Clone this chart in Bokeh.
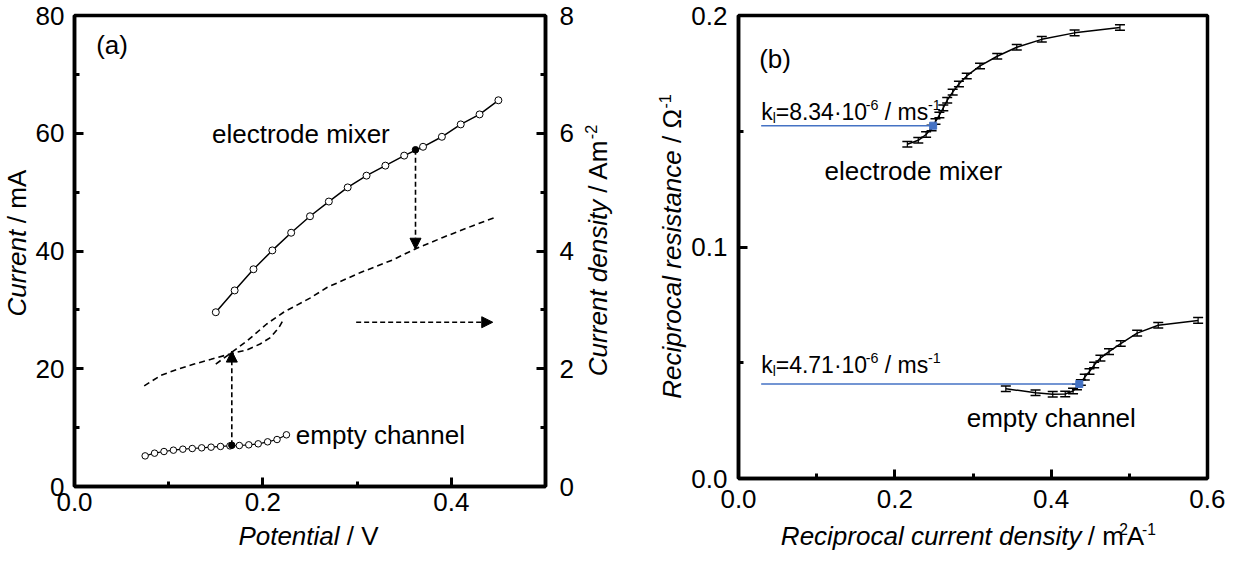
import math
from bokeh.plotting import figure
from bokeh.models import (Range1d, LinearAxis, FixedTicker, NumeralTickFormatter,
                          Label, Arrow, NormalHead, Whisker, TeeHead, ColumnDataSource)
from bokeh.layouts import row, column
from bokeh.embed import file_html
from bokeh.resources import INLINE

FONT = "Liberation Sans"
BLUE = "#4472C4"

# ---------------- Panel (a) data ----------------
mixer_potential = [0.15, 0.17, 0.19, 0.21, 0.23, 0.25, 0.27, 0.29, 0.31, 0.33, 0.35, 0.37, 0.39, 0.41, 0.43, 0.45]
mixer_current = [29.6, 33.3, 36.9, 40.1, 43.1, 45.9, 48.4, 50.8, 52.8, 54.5, 56.2, 57.7, 59.4, 61.5, 63.2, 65.6]

empty_potential = [0.075, 0.085, 0.095, 0.105, 0.115, 0.125, 0.135, 0.145, 0.155, 0.165, 0.175, 0.185, 0.195, 0.205, 0.215, 0.225]
empty_current = [5.2, 5.66, 5.94, 6.17, 6.34, 6.45, 6.57, 6.68, 6.8, 6.9, 6.96, 7.08, 7.25, 7.59, 7.98, 8.78]

mixer_dens_potential = [0.150, 0.167, 0.183, 0.204, 0.222, 0.250, 0.268, 0.303, 0.338, 0.361, 0.391, 0.423, 0.448]
mixer_density = [2.08, 2.28, 2.47, 2.76, 2.96, 3.20, 3.38, 3.63, 3.85, 4.03, 4.23, 4.43, 4.58]

empty_dens_potential = [0.074, 0.092, 0.109, 0.127, 0.145, 0.167, 0.183, 0.197, 0.208, 0.217, 0.222]
empty_density = [1.71, 1.89, 1.99, 2.08, 2.16, 2.26, 2.32, 2.42, 2.53, 2.70, 2.84]

marked_potential = [0.362, 0.167]
marked_current = [57.2, 7.0]
marked_target_current = [40.3, 23.0]   # where the dashed arrows end (left-axis units)

side_arrow_potential = [0.299, 0.444]
side_arrow_density = 2.79

# ---------------- Panel (b) data ----------------
recip_mixer_x = [0.216, 0.230, 0.240, 0.247, 0.252, 0.257, 0.262, 0.267, 0.274, 0.282, 0.292, 0.309, 0.331, 0.356, 0.388, 0.430, 0.488]
recip_mixer_y = [0.1444, 0.1461, 0.1486, 0.1514, 0.1542, 0.1570, 0.1601, 0.1634, 0.1669, 0.1704, 0.1739, 0.1782, 0.1824, 0.1863, 0.1897, 0.1925, 0.1948]
recip_mixer_err = [0.0012] * len(recip_mixer_x)

recip_empty_x = [0.342, 0.380, 0.402, 0.418, 0.428, 0.433, 0.438, 0.443, 0.449, 0.455, 0.463, 0.474, 0.489, 0.510, 0.537, 0.588]
recip_empty_y = [0.0388, 0.0370, 0.0364, 0.0365, 0.0378, 0.0395, 0.0415, 0.0438, 0.0462, 0.0490, 0.0520, 0.0548, 0.0583, 0.0628, 0.0662, 0.0683]
recip_empty_err = [0.0012] * len(recip_empty_x)

kl_mixer_x = [0.029, 0.249]
kl_mixer_y = 0.1524
kl_empty_x = [0.029, 0.436]
kl_empty_y = 0.0408

# ---------------- helpers ----------------
W = {' ': 278, '(': 333, ')': 333, '-': 333, '.': 278, '/': 278, '=': 584, '\u00b7': 278, '\u03a9': 768,
     'A': 667, 'C': 722, 'P': 667, 'R': 722, 'V': 667,
     'a': 556, 'b': 556, 'c': 500, 'd': 556, 'e': 556, 'f': 278, 'g': 556, 'h': 556, 'i': 222,
     'j': 222, 'k': 500, 'l': 222, 'm': 833, 'n': 556, 'o': 556, 'p': 556, 'q': 556, 'r': 333,
     's': 500, 't': 278, 'u': 556, 'v': 500, 'w': 722, 'x': 500, 'y': 500, 'z': 500}
for _d in "0123456789":
    W[_d] = 556

MID = 0.35   # distance (em) from the alphabetic baseline up to the text-box middle


def tw(s, size):
    return sum(W.get(c, 556) for c in s) * size / 1000.0


def rich(p, x, y, segs, kx, ky, size, align="left", vertical=False):
    """Mixed-style text; (x, y) is the baseline start/centre, in data units.
    Italic pieces are anchored at their right end (the junction with the next piece)."""
    parts = []
    for seg in segs:
        text, style = seg[0], seg[1]
        scale = seg[2] if len(seg) > 2 else 1.0
        shift = seg[3] if len(seg) > 3 else 0.0
        parts.append((text, style, size * scale, shift * size))
    total = sum(tw(t, fs) for t, _, fs, _ in parts)
    pos = {"left": 0.0, "center": -total / 2.0, "right": -total}[align]
    for t, st, fs, sh in parts:
        lead = len(t) - len(t.lstrip(" "))
        body = t.strip(" ")
        if st == "italic":
            anchor = pos + tw(t, fs)
            talign = "right"
        else:
            anchor = pos + tw(" " * lead, fs)
            talign = "left"
        up = sh + MID * fs
        if vertical:
            lx = x - up / kx
            ly = y + anchor / ky
            ang = math.pi / 2
        else:
            lx = x + anchor / kx
            ly = y + up / ky
            ang = 0.0
        p.add_layout(Label(x=lx, y=ly, text=body, text_font=FONT, text_font_size=f"{fs:.1f}px",
                           text_font_style=st, text_color="black", text_align=talign,
                           text_baseline="middle", angle=ang))
        pos += tw(t, fs)


def plain(p, x, y, text, size=26, rname="default"):
    p.add_layout(Label(x=x, y=y, text=text, text_font=FONT, text_font_size=f"{size}px",
                       text_color="black", text_align="left", text_baseline="middle",
                       y_range_name=rname))


def style_axis(ax, ticks, minor, fmt, standoff):
    ax.ticker = FixedTicker(ticks=ticks, minor_ticks=minor)
    ax.formatter = NumeralTickFormatter(format=fmt)
    ax.axis_line_width = 3.5
    ax.axis_line_color = "black"
    ax.major_tick_in = 9
    ax.major_tick_out = 0
    ax.minor_tick_in = 5
    ax.minor_tick_out = 0
    ax.major_tick_line_width = 3
    ax.minor_tick_line_width = 3
    ax.major_tick_line_color = "black"
    ax.minor_tick_line_color = "black"
    ax.major_label_text_font = FONT
    ax.major_label_text_font_size = "26px"
    ax.major_label_text_color = "black"
    ax.major_label_standoff = standoff


def base_fig(**kw):
    p = figure(output_backend="svg", toolbar_location=None, **kw)
    p.title.visible = False
    p.xgrid.visible = False
    p.ygrid.visible = False
    p.outline_line_color = "black"
    p.outline_line_width = 3.5
    p.background_fill_color = "white"
    p.border_fill_color = "white"
    return p


def text_fig(w, h):
    """A blank figure whose frame covers the whole canvas, in pixel units, for axis titles."""
    p = figure(width=w, height=h, x_range=Range1d(0, w), y_range=Range1d(0, h),
               x_axis_type=None, y_axis_type=None, min_border=0,
               output_backend="svg", toolbar_location=None)
    p.title.visible = False
    p.xgrid.visible = False
    p.ygrid.visible = False
    p.outline_line_color = None
    p.background_fill_color = "white"
    p.border_fill_color = "white"
    return p


SUP = 0.62
SUPSH = 0.42

# ---------------- Panel (a) ----------------
pa = base_fig(width=548, height=521, x_range=Range1d(0, 0.5), y_range=Range1d(0, 80),
              min_border_left=40, min_border_right=35, min_border_top=15, min_border_bottom=35)
pa.extra_y_ranges = {"d": Range1d(0, 8)}

style_axis(pa.xaxis[0], [0, 0.2, 0.4], [0.1, 0.3], "0.0", 6)
style_axis(pa.yaxis[0], [0, 20, 40, 60, 80], [10, 30, 50, 70], "0", 10)
right_ax = LinearAxis(y_range_name="d")
style_axis(right_ax, [0, 2, 4, 6, 8], [1, 3, 5, 7], "0", 14)
pa.add_layout(right_ax, "right")

pa.line(empty_dens_potential, empty_density, y_range_name="d", line_color="black",
        line_width=1.6, line_dash="6 4")
pa.line(mixer_dens_potential, mixer_density, y_range_name="d", line_color="black",
        line_width=1.6, line_dash="6 4")

pa.line(mixer_potential, mixer_current, line_color="black", line_width=1.5)
pa.scatter(mixer_potential, mixer_current, marker="circle", size=7, fill_color="white",
           line_color="black", line_width=1)
pa.line(empty_potential, empty_current, line_color="black", line_width=1.2)
pa.scatter(empty_potential, empty_current, marker="circle", size=6.5, fill_color="white",
           line_color="black", line_width=1)

for xv, y0, y1 in zip(marked_potential, marked_current, marked_target_current):
    pa.add_layout(Arrow(end=NormalHead(size=11, fill_color="black", line_color="black", line_width=1),
                        x_start=xv, y_start=y0, x_end=xv, y_end=y1,
                        line_color="black", line_width=1.6, line_dash="5 3"))
pa.add_layout(Arrow(end=NormalHead(size=11, fill_color="black", line_color="black", line_width=1),
                    x_start=side_arrow_potential[0], y_start=side_arrow_density,
                    x_end=side_arrow_potential[1], y_end=side_arrow_density,
                    y_range_name="d", line_color="black", line_width=1.6, line_dash="5 3"))
pa.scatter(marked_potential, marked_current, marker="circle", size=6.5, fill_color="black",
           line_color="black")

plain(pa, 0.023, 75, "(a)")
plain(pa, 0.146, 59.8, "electrode mixer")
plain(pa, 0.235, 8.8, "empty channel")

# ---------------- Panel (b) ----------------
pb = base_fig(width=537, height=519, x_range=Range1d(0, 0.6), y_range=Range1d(0, 0.2),
              min_border_left=49, min_border_right=18, min_border_top=15, min_border_bottom=41)
kxb = 470 / 0.6
kyb = 463 / 0.2
style_axis(pb.xaxis[0], [0, 0.2, 0.4, 0.6], [0.1, 0.3, 0.5], "0.0", 11)
style_axis(pb.yaxis[0], [0, 0.1, 0.2], [0.05, 0.15], "0.0", 11)

for xs, ys, es in ((recip_mixer_x, recip_mixer_y, recip_mixer_err),
                   (recip_empty_x, recip_empty_y, recip_empty_err)):
    src = ColumnDataSource(dict(base=xs, lower=[a - b for a, b in zip(ys, es)],
                                upper=[a + b for a, b in zip(ys, es)]))
    pb.add_layout(Whisker(source=src, base="base", lower="lower", upper="upper", dimension="height",
                          line_color="black", line_width=1.2,
                          upper_head=TeeHead(size=10, line_color="black", line_width=1.5),
                          lower_head=TeeHead(size=10, line_color="black", line_width=1.5)))
    pb.line(xs, ys, line_color="black", line_width=1.5)

pb.line(kl_mixer_x, [kl_mixer_y] * 2, line_color=BLUE, line_width=1.6)
pb.line(kl_empty_x, [kl_empty_y] * 2, line_color=BLUE, line_width=1.6)
pb.scatter([kl_mixer_x[1], kl_empty_x[1]], [kl_mixer_y, kl_empty_y], marker="square", size=7,
           fill_color=BLUE, line_color=BLUE)

plain(pb, 0.0265, 0.181, "(b)")
plain(pb, 0.110, 0.133, "electrode mixer")
plain(pb, 0.292, 0.0261, "empty channel")

KSZ = 23
k_segs_m = [("k", "normal"), ("l", "normal", 0.6, -0.15), ("=8.34\u00b710", "normal"),
            ("-6", "normal", SUP, SUPSH), (" / ms", "normal"), ("-1", "normal", SUP, SUPSH)]
k_segs_e = [("k", "normal"), ("l", "normal", 0.6, -0.15), ("=4.71\u00b710", "normal"),
            ("-6", "normal", SUP, SUPSH), (" / ms", "normal"), ("-1", "normal", SUP, SUPSH)]
rich(pb, 0.029, 0.155, k_segs_m, kxb, kyb, KSZ)
rich(pb, 0.029, 0.0457, k_segs_e, kxb, kyb, KSZ)

# ---------------- axis titles (separate blank canvases, pixel units) ----------------
ylab_a = text_fig(32, 521)
rich(ylab_a, 26, 271, [("Current", "italic"), (" / mA", "normal")], 1, 1, 26,
     align="center", vertical=True)

xlab_a = text_fig(580, 29)
rich(xlab_a, 308, 5.5, [("Potential", "italic"), (" / V", "normal")], 1, 1, 26, align="center")

mid = text_fig(108, 550)
rich(mid, 27, 300, [("Current density", "italic"), (" / Am", "normal"), ("-2", "normal", SUP, SUPSH)],
     1, 1, 26, align="center", vertical=True)
rich(mid, 101, 304, [("Reciprocal resistance", "italic"), (" / \u03a9", "normal"),
                     ("-1", "normal", SUP, SUPSH)],
     1, 1, 26, align="center", vertical=True)

xlab_b = text_fig(537, 31)
rich(xlab_b, 284, 5.7, [("Reciprocal current density", "italic"), (" / m", "normal"),
                        ("2", "normal", 0.6, 0.40), ("A", "normal"), ("-1", "normal", 0.6, 0.40)],
     1, 1, 26, align="center")

left_block = column(row(ylab_a, pa), xlab_a)
right_block = column(pb, xlab_b)
layout = row(left_block, mid, right_block)
open("out.html", "w").write(file_html(layout, INLINE))
